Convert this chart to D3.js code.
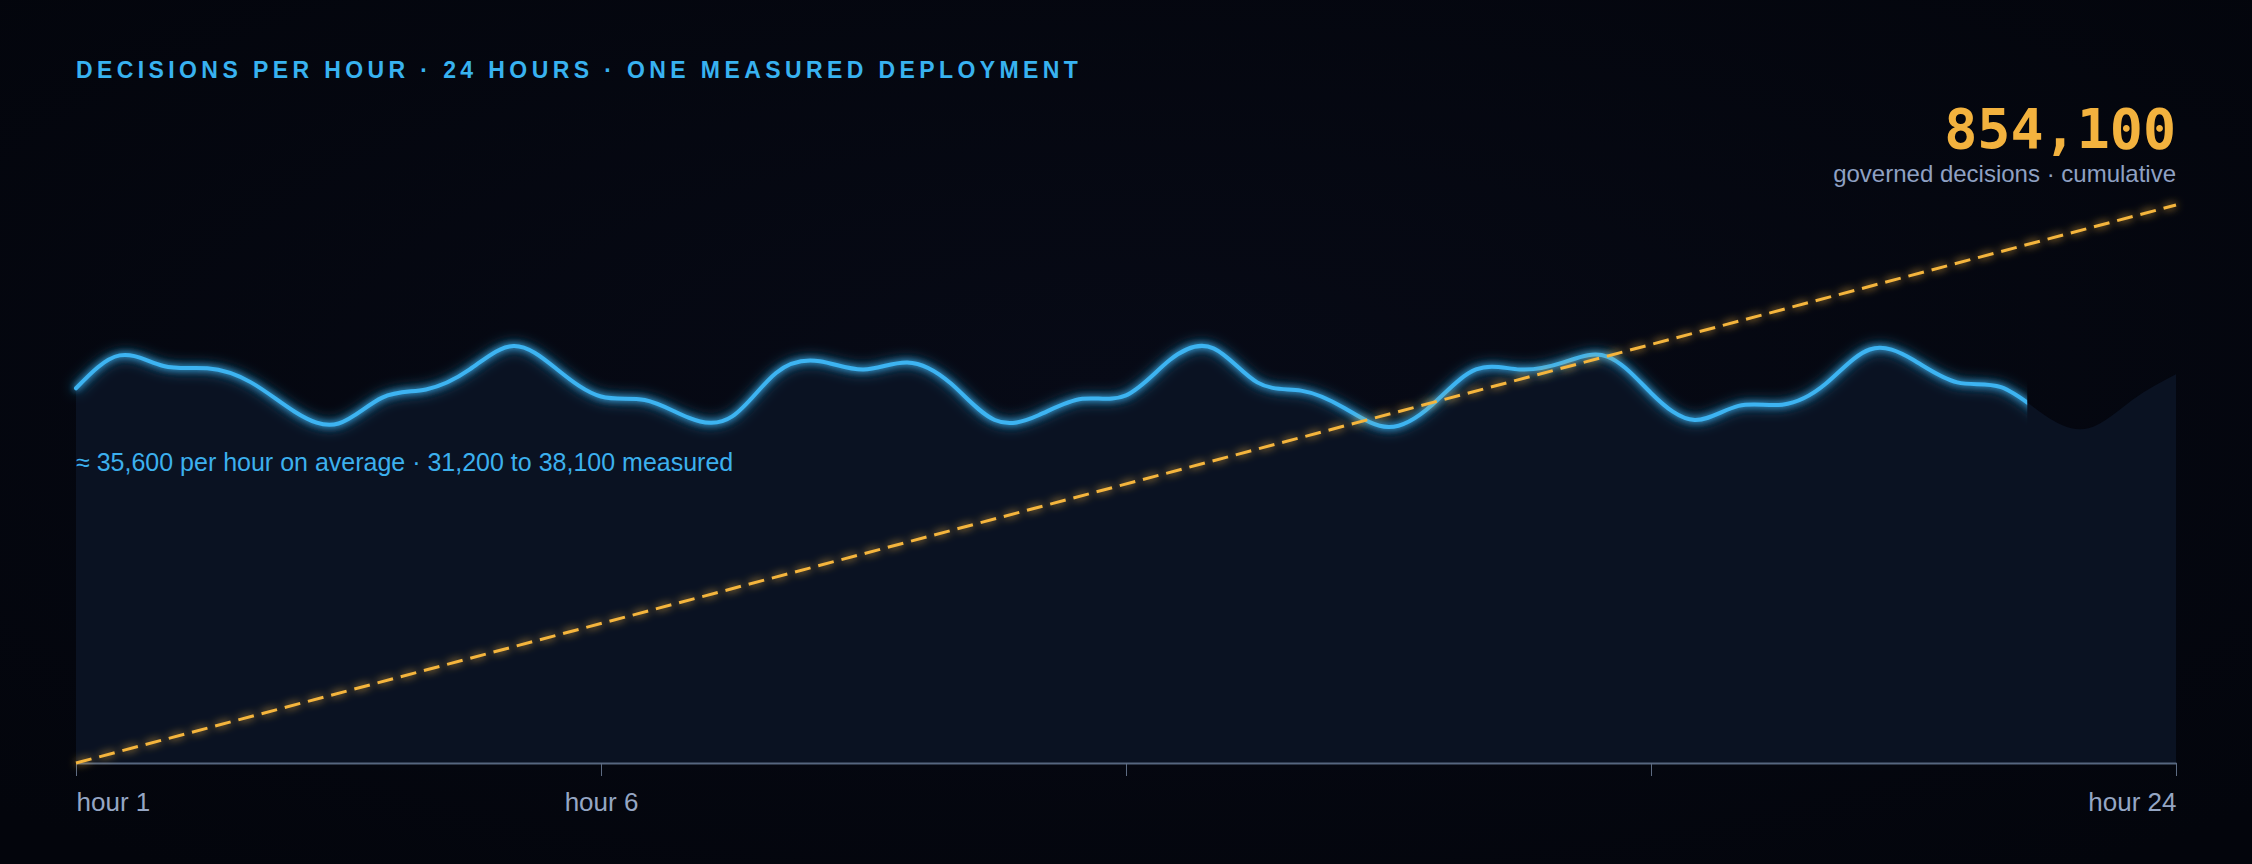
<!DOCTYPE html>
<html>
<head>
<meta charset="utf-8">
<script src="https://cdn.jsdelivr.net/npm/d3@7"></script>
<style>
  html, body { margin: 0; padding: 0; background: #04060e; }
  svg { display: block; }
</style>
</head>
<body>
<div id="chart"></div>
<script>
// half-hour samples of decisions per hour
const hours = [0, 0.5, 1, 1.5, 2, 2.5, 3, 3.5, 4, 4.5, 5, 5.5, 6, 6.5, 7, 7.5, 8, 8.5, 9, 9.5,
  10, 10.5, 11, 11.5, 12, 12.5, 13, 13.5, 14, 14.5, 15, 15.5, 16, 16.5, 17, 17.5, 18, 18.5, 19, 19.5,
  20, 20.5, 21, 21.5, 22, 22.5, 23, 23.5, 24];
const perHour = [34400, 37200, 36300, 36100, 34900, 32400, 31400, 33600, 34300, 36000,
  38000, 36000, 33700, 33400, 31900, 32000, 35700, 36700, 36000, 36600,
  34800, 31700, 32100, 33500, 33800, 36800, 37800, 34900, 34200, 32700,
  31100, 33000, 36000, 36000, 36600, 37100, 34000, 31700, 32900, 33000,
  34800, 37700, 36800, 34900, 34500, 32100, 31000, 33400, 35600];
// the bright line is drawn up to this hour
const drawnThrough = 22.3;

// cumulative governed decisions
const cumHours = [0, 24];
const cumTotals = [0, 854100];

const tickHours = [0, 6, 12, 18, 24];
const tickLabels = ["hour 1", "hour 6", "", "", "hour 24"];

const title = "DECISIONS PER HOUR · 24 HOURS · ONE MEASURED DEPLOYMENT";
const totalLabel = "854,100";
const totalCaption = "governed decisions · cumulative";
const note = "≈ 35,600 per hour on average · 31,200 to 38,100 measured";

const W = 2252, H = 864;
const margin = { top: 205, right: 76, bottom: 101, left: 76 };

const svg = d3.select("#chart").append("svg")
  .attr("width", W)
  .attr("height", H);

const defs = svg.append("defs");

const bg = defs.append("radialGradient")
  .attr("id", "bg")
  .attr("cx", "50%").attr("cy", "45%").attr("r", "70%");
bg.append("stop").attr("offset", "0%").attr("stop-color", "#070a16");
bg.append("stop").attr("offset", "100%").attr("stop-color", "#03050c");

const glowBlue = defs.append("filter").attr("id", "glowBlue")
  .attr("x", "-5%").attr("y", "-50%").attr("width", "110%").attr("height", "200%");
glowBlue.append("feGaussianBlur").attr("in", "SourceGraphic").attr("stdDeviation", 7).attr("result", "b1");
glowBlue.append("feGaussianBlur").attr("in", "SourceGraphic").attr("stdDeviation", 3).attr("result", "b2");
const mb = glowBlue.append("feMerge");
mb.append("feMergeNode").attr("in", "b1");
mb.append("feMergeNode").attr("in", "b2");
mb.append("feMergeNode").attr("in", "SourceGraphic");

const glowAmber = defs.append("filter").attr("id", "glowAmber")
  .attr("x", "-5%").attr("y", "-10%").attr("width", "110%").attr("height", "120%");
glowAmber.append("feGaussianBlur").attr("in", "SourceGraphic").attr("stdDeviation", 4).attr("result", "b");
const ma = glowAmber.append("feMerge");
ma.append("feMergeNode").attr("in", "b");
ma.append("feMergeNode").attr("in", "SourceGraphic");

svg.append("rect").attr("width", W).attr("height", H).attr("fill", "url(#bg)");

// scales
const x = d3.scaleLinear()
  .domain([0, 24])
  .range([margin.left, W - margin.right]);
const y = d3.scaleLinear()
  .domain([2500, 50000])
  .range([H - margin.bottom, margin.top]);
const yCum = d3.scaleLinear()
  .domain([0, 854100])
  .range([H - margin.bottom, margin.top]);

const rows = hours.map((h, i) => ({ h: h, v: perHour[i] }));

defs.append("clipPath").attr("id", "drawn")
  .append("rect")
  .attr("x", 0).attr("y", 0)
  .attr("width", x(drawnThrough))
  .attr("height", H);

// area under the rate curve
const area = d3.area()
  .x(d => x(d.h))
  .y0(y.range()[0])
  .y1(d => y(d.v))
  .curve(d3.curveNatural);

svg.append("path")
  .datum(rows)
  .attr("d", area)
  .attr("fill", "#0a1222");

// axis
const axis = svg.append("g")
  .attr("transform", `translate(0, ${H - margin.bottom})`)
  .call(d3.axisBottom(x)
    .tickValues(tickHours)
    .tickFormat((d, i) => tickLabels[i])
    .tickSize(13)
    .tickSizeOuter(0));
axis.select(".domain")
  .attr("stroke", "#56667f")
  .attr("stroke-width", 2);
axis.selectAll(".tick line")
  .attr("stroke", "#5d6b82")
  .attr("stroke-width", 1);
axis.selectAll(".tick text")
  .attr("y", 30)
  .attr("fill", "#95a6c4")
  .style("font-family", "'Liberation Sans', Arial, sans-serif")
  .style("font-size", "26px")
  .attr("text-anchor", (d, i) => i === 0 ? "start" : (i === tickHours.length - 1 ? "end" : "middle"));

// rate line
const line = d3.line()
  .x(d => x(d.h))
  .y(d => y(d.v))
  .curve(d3.curveNatural);

svg.append("g")
  .attr("clip-path", "url(#drawn)")
  .append("path")
  .datum(rows)
  .attr("d", line)
  .attr("fill", "none")
  .attr("stroke", "#3db4f2")
  .attr("stroke-width", 4)
  .attr("stroke-linecap", "round")
  .attr("filter", "url(#glowBlue)");

// cumulative dashed line
const cumLine = d3.line()
  .x((d, i) => x(cumHours[i]))
  .y(d => yCum(d));

svg.append("path")
  .datum(cumTotals)
  .attr("d", cumLine)
  .attr("fill", "none")
  .attr("stroke", "#f5b53c")
  .attr("stroke-width", 3)
  .attr("stroke-dasharray", "16 8")
  .attr("filter", "url(#glowAmber)");

// texts
svg.append("text")
  .attr("x", margin.left)
  .attr("y", 78)
  .attr("fill", "#38b2f0")
  .style("font-family", "'Liberation Sans', Arial, sans-serif")
  .style("font-weight", "bold")
  .style("font-size", "23px")
  .style("letter-spacing", "4.4px")
  .text(title);

svg.append("text")
  .attr("x", W - margin.right)
  .attr("y", 148)
  .attr("text-anchor", "end")
  .attr("fill", "#f3b23e")
  .style("font-family", "'DejaVu Sans Mono', monospace")
  .style("font-weight", "bold")
  .style("font-size", "55px")
  .text(totalLabel);

svg.append("text")
  .attr("x", W - margin.right)
  .attr("y", 182)
  .attr("text-anchor", "end")
  .attr("fill", "#8fa1c3")
  .style("font-family", "'Liberation Sans', Arial, sans-serif")
  .style("font-size", "24px")
  .text(totalCaption);

svg.append("text")
  .attr("x", margin.left)
  .attr("y", 471)
  .attr("fill", "#3cb0ee")
  .style("font-family", "'Liberation Sans', Arial, sans-serif")
  .style("font-size", "25px")
  .text(note);
</script>
</body>
</html>
